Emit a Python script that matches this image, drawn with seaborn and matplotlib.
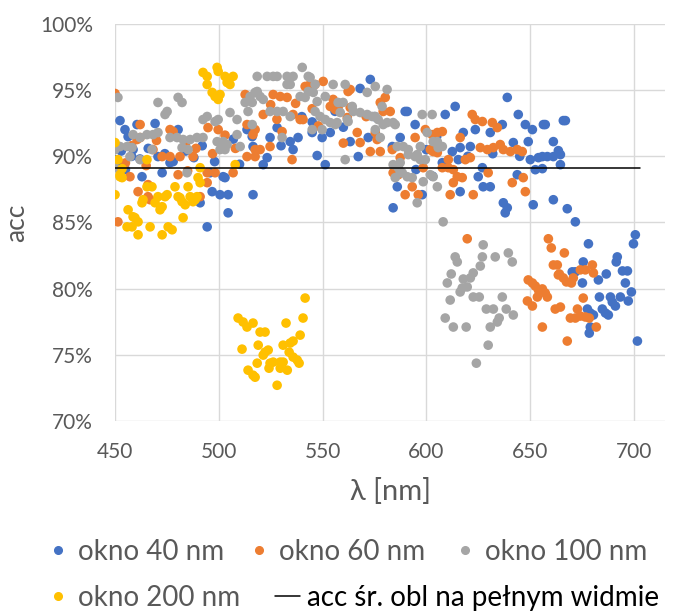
import matplotlib
matplotlib.use("Agg")
import matplotlib.pyplot as plt
from matplotlib.lines import Line2D
from matplotlib.ticker import PercentFormatter, MultipleLocator
import seaborn as sns
import pandas as pd

# okno 40 nm
lam_40 = [452.4, 454.8, 456.3, 460.6, 469.3, 450.0, 452.4, 463.0, 472.7, 476.5, 480.4, 491.0, 494.4,
          496.8, 500.6, 504.5, 504.5, 503.0, 516.5, 513.6, 516.1, 495.8, 470.7, 458.7, 502.1,
          451.0, 453.0, 458.0, 462.0, 466.0, 474.0, 478.0, 484.0, 488.0, 492.0, 498.0, 507.0, 510.0, 455.0,
          573.0, 568.1, 589.8, 563.3, 567.2, 547.4, 551.3, 535.8, 521.4, 584.0, 586.0, 583.6, 587.4,
          572.0, 549.8, 553.7, 538.2, 534.4, 528.1, 524.7, 523.3, 516.5,
          540.0, 545.0, 556.0, 560.0, 575.0, 530.0, 545.0,
          639.0, 613.9, 609.1, 590.8, 594.6, 617.8, 623.6, 630.8, 636.6, 644.3, 647.7, 651.1, 656.4,
          661.2, 649.1, 641.9, 616.3, 621.2, 612.5, 627.0, 607.7, 615.4, 652.5, 625.0, 627.4, 630.8,
          616.3, 637.1, 639.0, 638.0, 651.5, 661.2, 643.8, 654.0, 658.3, 661.2, 664.6, 650.1, 598.0,
          600.0, 605.0, 595.0, 620.0, 632.0, 645.0, 603.0,
          657.3, 666.0, 667.0, 663.6, 655.9, 664.6, 655.9, 667.9, 671.8,
          700.7, 699.8, 678.1, 675.6, 692.0, 691.5, 670.3, 671.8, 675.2, 682.9, 686.7, 694.5, 696.9,
          695.9, 698.8, 683.4, 688.7, 689.6, 693.5, 697.3, 677.6, 679.0, 680.5, 684.8, 686.3, 687.7,
          691.1, 679.0, 678.5, 701.7]
acc_40 = [92.70, 92.02, 91.49, 92.40, 92.48, 89.75, 89.22, 88.46, 88.76, 89.52, 92.02, 86.49, 84.67,
          87.33, 87.10, 87.10, 85.73, 88.39, 87.10, 92.02, 91.49, 88.76, 89.98, 90.51, 88.46,
          89.30, 90.40, 90.00, 89.80, 90.60, 90.20, 89.60, 90.40, 89.90, 90.80, 89.60, 91.30, 89.40, 89.00,
          95.81, 95.13, 93.39, 91.11, 89.98, 90.06, 89.37, 90.51, 89.37, 86.11, 87.70, 90.74, 91.42,
          91.42, 91.42, 91.80, 91.42, 91.11, 92.17, 91.42, 89.90, 90.74,
          93.00, 92.60, 93.40, 92.20, 93.00, 90.80, 91.80,
          94.45, 93.77, 93.16, 93.39, 92.40, 91.80, 92.02, 91.80, 92.40, 93.16, 92.40, 92.02, 92.40,
          91.11, 91.11, 91.04, 90.66, 90.74, 90.36, 89.14, 89.52, 89.75, 88.99, 88.46, 87.70, 87.70,
          87.33, 86.49, 86.11, 85.73, 86.34, 86.72, 88.61, 89.90, 89.98, 89.98, 90.13, 89.75, 87.10,
          90.50, 91.50, 89.00, 90.00, 90.20, 90.00, 88.50,
          92.40, 92.70, 92.70, 90.43, 89.98, 89.37, 89.07, 86.04, 85.05,
          84.07, 83.39, 83.39, 82.02, 82.40, 82.02, 81.27, 81.27, 80.43, 80.66, 81.11, 81.34, 81.34,
          80.43, 79.75, 79.37, 79.37, 78.99, 79.37, 79.07, 78.46, 78.16, 78.01, 78.46, 78.16, 78.01,
          78.69, 77.10, 76.64, 76.04]

# okno 60 nm
lam_60 = [450.0, 451.4, 462.1, 476.5, 478.0, 494.8, 499.7, 512.7, 513.6, 517.5, 468.3, 472.7, 476.5,
          481.3, 487.6, 457.2, 460.6, 462.1, 494.4, 498.2, 506.9, 513.6, 517.5, 465.9, 461.1, 465.9,
          480.4, 491.0, 494.4, 466.9,
          455.0, 458.0, 465.0, 470.0, 484.0, 489.0, 497.0, 503.0, 508.0, 485.0,
          526.2, 529.6, 532.9, 550.3, 555.1, 562.3, 557.5, 539.2, 535.8, 521.4, 516.5, 517.5, 519.9,
          524.7, 530.5, 535.3, 566.7, 568.1, 573.0, 577.8, 579.2, 582.6, 575.4, 563.3, 584.0, 586.5,
          589.8, 541.6, 544.0, 546.4, 553.7, 556.1, 561.9, 563.3, 577.8, 580.2, 583.6, 594.6, 599.5,
          602.8, 601.9, 605.3, 607.7, 610.6, 540.6, 576.3,
          545.0, 528.0, 525.0, 548.0, 560.0, 571.0, 537.0,
          622.1, 623.6, 627.0, 631.8, 634.2, 605.3, 603.3, 616.3, 618.8, 621.2, 626.0, 629.4, 632.3,
          635.6, 637.1, 640.5, 643.8, 646.2, 629.8, 607.7, 610.6, 613.0, 614.9, 617.3, 613.0, 596.1,
          611.5, 622.6, 641.4, 646.7, 647.7, 587.4, 593.2, 598.5,
          619.7,
          658.8, 660.2, 666.5, 661.2, 663.1, 664.1, 666.0, 667.5, 669.9, 670.8, 674.2, 676.6, 680.0,
          680.5, 649.1, 651.1, 652.5, 654.0, 655.9, 657.3, 658.3, 653.5, 648.7, 651.1, 655.9, 662.1,
          664.6, 675.6, 672.8, 669.4, 671.8, 674.2, 676.6, 678.5, 681.9, 667.9, 663.6]
acc_60 = [94.75, 85.05, 92.40, 92.02, 91.87, 92.17, 92.02, 94.67, 92.40, 92.02, 90.51, 89.98, 89.98,
          89.98, 89.98, 88.46, 91.27, 91.42, 88.76, 88.76, 88.76, 89.98, 89.98, 87.86, 87.33, 86.95,
          88.61, 86.95, 88.01, 86.72,
          89.50, 90.80, 89.30, 91.20, 91.00, 90.60, 90.20, 91.60, 90.60, 88.90,
          94.67, 94.52, 94.45, 95.66, 94.30, 94.90, 93.69, 92.78, 93.16, 93.16, 91.64, 90.51, 90.51,
          90.74, 91.87, 89.75, 91.80, 91.04, 90.36, 90.36, 93.39, 93.39, 91.80, 93.69, 88.76, 88.61,
          87.10, 95.28, 95.43, 95.43, 93.77, 93.54, 92.93, 95.05, 94.07, 94.45, 90.51, 91.42, 92.02,
          91.64, 90.51, 90.28, 91.87, 89.75, 92.78, 91.27,
          93.60, 92.80, 93.90, 92.30, 91.00, 93.00, 94.00,
          93.16, 92.78, 92.63, 92.55, 92.17, 91.80, 90.36, 91.42, 89.75, 89.90, 90.66, 90.51, 90.66,
          90.89, 90.51, 90.36, 90.51, 90.36, 88.76, 89.14, 89.14, 88.99, 88.46, 88.39, 88.01, 87.10,
          87.10, 87.10, 88.01, 88.39, 87.33, 89.90, 87.70, 89.14,
          83.77,
          83.77, 83.08, 82.70, 81.79, 81.79, 81.11, 80.81, 80.51, 80.43, 80.81, 81.42, 81.42, 81.79,
          81.19, 80.66, 80.43, 80.20, 79.90, 79.98, 79.67, 79.37, 79.37, 79.07, 78.69, 77.10, 78.46,
          78.61, 79.29, 78.46, 77.78, 77.78, 77.93, 77.86, 77.78, 77.10, 76.04, 81.04]

# okno 100 nm
lam_100 = [451.4, 470.7, 475.1, 474.1, 480.4, 482.3, 492.4, 494.4, 498.2, 499.7, 505.4, 508.8, 512.7,
           515.1, 517.5, 514.1, 450.0, 452.4, 455.8, 458.2, 458.7, 462.1, 465.4, 468.3, 470.7, 476.5,
           479.9, 482.8, 486.2, 489.5, 492.4, 482.3, 485.2, 499.2, 502.1, 504.0, 508.8, 500.6, 503.0,
           467.8, 457.2, 462.1, 484.7, 450.0, 510.3,
           518.5, 523.3, 526.2, 528.1, 532.9, 535.8, 540.2, 543.1, 532.9, 534.4, 546.4, 555.1, 560.9,
           518.5, 519.9, 521.4, 516.1, 543.1, 545.5, 539.2, 541.6, 547.4, 551.3, 557.5, 559.9, 564.8,
           568.1, 571.5, 575.4, 576.8, 579.2, 581.1, 585.0, 524.7, 528.1, 531.0, 534.4, 546.4, 548.8,
           551.3, 553.7, 556.1, 545.0, 549.8, 558.5, 561.9, 516.1, 530.5, 560.9, 575.4, 577.8, 584.0,
           586.5, 588.4, 590.8, 586.0, 588.9, 591.3,
           544.0, 571.5, 575.4, 581.1, 557.0, 562.3, 564.3, 573.9, 578.7, 584.0, 598.0, 602.8, 600.4,
           597.1, 605.3, 607.7, 587.4, 594.6, 597.1, 585.0,
           603.3, 605.7, 591.3, 595.6, 599.5, 587.4, 593.2, 601.9, 603.3, 598.5, 605.3, 595.6, 608.1,
           627.4, 613.9, 614.9, 627.0, 633.2, 639.5, 641.4, 626.0, 622.6, 621.2, 617.8, 612.0, 610.1,
           619.7, 617.3, 616.3, 611.5, 622.6, 625.5, 636.6, 609.1, 613.0, 619.2, 628.9, 632.3, 638.5,
           641.9, 630.8, 634.2, 635.1, 629.8, 624.1]
acc_100 = [94.45, 94.07, 93.39, 93.16, 94.45, 94.07, 92.78, 93.01, 92.63, 92.78, 93.31, 92.78, 94.07,
           94.52, 94.83, 93.39, 90.51, 90.74, 90.74, 90.66, 91.64, 91.42, 91.64, 91.64, 91.80, 91.42,
           91.42, 91.27, 91.27, 91.42, 91.42, 90.66, 90.51, 91.11, 91.11, 90.89, 91.64, 90.51, 90.51,
           90.51, 89.98, 89.75, 88.76, 89.14, 90.74,
           96.04, 96.04, 96.04, 96.04, 96.04, 96.04, 96.72, 96.04, 95.43, 95.43, 95.43, 95.43, 95.43,
           94.90, 94.52, 94.30, 94.07, 94.90, 94.83, 94.52, 94.45, 94.14, 94.52, 94.07, 94.07, 93.39,
           93.31, 93.16, 93.01, 92.78, 92.40, 92.55, 92.40, 93.39, 93.39, 93.39, 93.01, 93.39, 93.01,
           92.78, 92.55, 92.40, 92.02, 92.02, 93.31, 92.78, 92.40, 91.42, 89.75, 92.02, 91.42, 89.37,
           89.14, 88.76, 88.46, 90.74, 90.74, 90.51,
           95.96, 94.83, 95.28, 95.05, 92.55, 92.63, 93.77, 93.01, 93.77, 92.55, 93.16, 93.16, 91.80,
           90.74, 91.11, 90.74, 89.52, 89.98, 89.75, 88.39,
           91.11, 90.66, 90.13, 90.13, 89.75, 88.76, 88.39, 88.61, 88.46, 88.08, 87.70, 86.49, 85.05,
           83.31, 82.40, 82.02, 82.40, 82.40, 82.70, 82.02, 81.71, 81.19, 80.81, 80.73, 81.11, 80.43,
           80.13, 80.05, 79.75, 79.14, 79.37, 79.37, 79.37, 77.78, 77.10, 77.10, 78.46, 78.46, 78.46,
           78.01, 77.10, 77.48, 77.78, 75.73, 74.37]

# okno 200 nm
lam_200 = [492.4, 494.4, 499.2, 499.7, 503.0, 504.0, 506.9, 505.4, 494.4, 496.8, 498.2, 500.6, 499.7,
           450.0, 451.4, 465.4, 507.9, 491.0, 453.4, 452.4,
           450.0, 452.4, 453.4, 456.3, 458.7, 459.6, 461.1, 455.8, 458.2, 461.1, 466.9, 463.0, 465.4,
           467.8, 463.5, 469.3, 470.7, 472.7, 474.1, 472.7, 475.6, 477.5, 478.9, 480.4, 482.3, 483.8,
           485.2, 486.2, 487.6, 489.5, 490.0, 491.0, 482.8, 471.7, 475.1, 481.3, 488.6,
           509.3, 511.7, 513.6, 516.5, 519.9, 522.3, 519.0, 511.2, 522.3, 523.8, 521.4, 518.5, 514.1,
           516.5, 517.5, 524.7, 526.2, 529.6, 531.0, 524.2, 529.6, 528.1, 533.0, 531.0, 534.4, 535.8,
           539.2, 533.9, 535.8, 537.8, 538.7, 532.4, 540.6, 541.6]
acc_200 = [96.34, 96.04, 96.72, 96.42, 96.04, 95.58, 96.04, 95.43, 95.43, 94.83, 94.52, 94.67, 94.30,
           91.04, 89.75, 89.75, 89.37, 89.14, 89.07, 88.46,
           87.10, 88.61, 88.39, 85.96, 85.43, 85.36, 85.05, 84.67, 84.67, 84.07, 84.67, 86.49, 87.70,
           87.70, 86.72, 86.49, 86.95, 86.19, 86.95, 84.07, 84.67, 84.45, 87.70, 86.95, 86.57, 86.34,
           87.70, 86.95, 86.57, 86.95, 88.39, 88.01, 85.36, 85.96, 87.10, 86.87, 86.72,
           77.78, 77.48, 77.10, 77.40, 76.72, 76.72, 75.73, 75.43, 75.20, 75.36, 74.98, 74.37, 73.84,
           73.46, 73.31, 74.37, 74.45, 74.45, 74.45, 73.99, 73.99, 72.70, 73.84, 75.73, 75.89, 76.04,
           76.49, 75.20, 74.83, 74.60, 74.37, 77.40, 77.78, 79.29]

# średnia acc obliczona na pełnym widmie
acc_sr = 89.1
lam_zakres = [450, 703]

serie = ["okno 40 nm", "okno 60 nm", "okno 100 nm", "okno 200 nm"]
opis_linii = "acc śr. obl na pełnym widmie"
kolory = ["#4472C4", "#ED7D31", "#A5A5A5", "#FFC000"]

df = pd.concat([
    pd.DataFrame({"lam": lam_40, "acc": acc_40, "seria": serie[0]}),
    pd.DataFrame({"lam": lam_60, "acc": acc_60, "seria": serie[1]}),
    pd.DataFrame({"lam": lam_100, "acc": acc_100, "seria": serie[2]}),
    pd.DataFrame({"lam": lam_200, "acc": acc_200, "seria": serie[3]}),
], ignore_index=True)

sns.set_theme(style="whitegrid")
plt.rcParams["font.family"] = ["Lato", "DejaVu Sans"]
szary = "#595959"

fig = plt.figure(figsize=(6.75, 6.12), dpi=100)
ax = fig.add_axes([0.1704, 0.3121, 0.8148, 0.6487])

sns.scatterplot(data=df, x="lam", y="acc", hue="seria", palette=dict(zip(serie, kolory)),
                s=48, linewidth=0, legend=False, ax=ax, zorder=3)
sns.lineplot(x=lam_zakres, y=[acc_sr, acc_sr], color="black", linewidth=1.1, ax=ax, zorder=4)

ax.set_xlim(450, 715)
ax.set_ylim(70, 100)
ax.xaxis.set_major_locator(MultipleLocator(50))
ax.yaxis.set_major_locator(MultipleLocator(5))
ax.yaxis.set_major_formatter(PercentFormatter(decimals=0))
ax.grid(True, color="#D9D9D9", linewidth=1.0)
for s in ax.spines.values():
    s.set_visible(False)
ax.tick_params(length=0, labelsize=15, labelcolor=szary)
ax.tick_params(axis="x", pad=15)
ax.tick_params(axis="y", pad=16)
ax.set_xlabel("λ [nm]", fontsize=21, color=szary, labelpad=12)
ax.set_ylabel("acc", fontsize=19, color=szary, labelpad=8)

# legenda pod wykresem, wpis po wpisie (układ jak w Excelu)
kropki = [Line2D([], [], marker="o", linestyle="none", color=k, markersize=5.5) for k in kolory]
linia = Line2D([], [], color="black", linewidth=1.1)
wpisy = [
    (kropki[0], serie[0], 0.0736, 0.098, 0.6, 0.42, szary),
    (kropki[1], serie[1], 0.3714, 0.098, 0.6, 0.42, szary),
    (kropki[2], serie[2], 0.6766, 0.098, 0.6, 0.42, szary),
    (kropki[3], serie[3], 0.0736, 0.0229, 0.6, 0.42, szary),
    (linia, opis_linii, 0.4074, 0.0229, 0.9, 0.25, "black"),
]
for uchwyt, tekst, x0, y0, hl, tp, kol in wpisy:
    leg = fig.legend([uchwyt], [tekst], loc="center left", bbox_to_anchor=(x0, y0), frameon=False,
                     fontsize=20, handlelength=hl, handletextpad=tp, borderpad=0, borderaxespad=0,
                     labelcolor=kol)

fig.savefig("out.png", dpi=100)
